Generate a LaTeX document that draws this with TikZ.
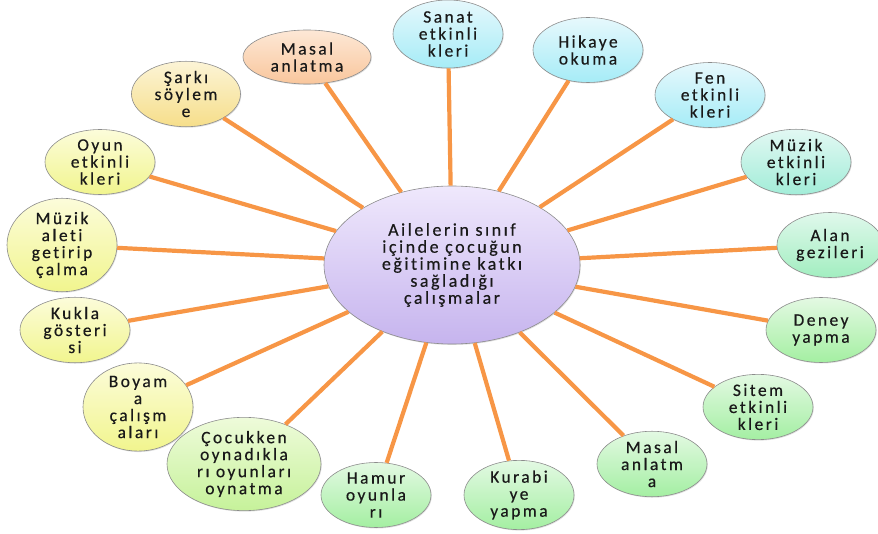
\documentclass[tikz,border=0pt]{standalone}
\usepackage{fontspec}
\setmainfont{Carlito}[LetterSpace=14, Ligatures=NoCommon, FakeBold=0.4]
\usetikzlibrary{shapes.geometric,shadows}
\newdimen\unitsize
\setlength{\unitsize}{1pt}
\definecolor{linkorange}{HTML}{F79646}
\definecolor{rimgray}{HTML}{8C8C8C}
\definecolor{hubtop}{HTML}{EFE8FC}   \definecolor{hubbot}{HTML}{C6B4EE}
\definecolor{cyantop}{HTML}{E6F8FC}  \definecolor{cyanbot}{HTML}{A6ECF7}
\definecolor{tealtop}{HTML}{E2F8F3}  \definecolor{tealbot}{HTML}{A2EDD8}
\definecolor{minttop}{HTML}{E0F8EC}  \definecolor{mintbot}{HTML}{A2EEC0}
\definecolor{greentop}{HTML}{E3F9E3} \definecolor{greenbot}{HTML}{A4EFA2}
\definecolor{limetop}{HTML}{EEFBDA}  \definecolor{limebot}{HTML}{C6F29A}
\definecolor{yeltop}{HTML}{FCFCDA}   \definecolor{yelbot}{HTML}{F1F58E}
\definecolor{goldtop}{HTML}{FCF4D6}  \definecolor{goldbot}{HTML}{F6DE8A}
\definecolor{peachtop}{HTML}{FDE8D6} \definecolor{peachbot}{HTML}{F9C69C}

\begin{document}
\begin{tikzpicture}[x=\unitsize,y=-\unitsize]
\tikzset{bubble/.style={ellipse, draw=rimgray, line width=0.6pt, inner sep=0pt,
  align=center, font=\fontsize{17.5}{17}\selectfont, text=black!90,
  minimum width=110\unitsize, minimum height=65\unitsize,
  drop shadow={opacity=0.25, shadow xshift=0.8pt, shadow yshift=-1pt}}}%
\tikzset{tint/.style={top color=#1top, bottom color=#1bot}}%
\tikzset{edge/.style={draw=linkorange, line width=4.2pt}}%
\useasboundingbox (0,0) rectangle (878,534);
% hub
\node[bubble, tint=hub, minimum width=256\unitsize, minimum height=158\unitsize,
  font=\fontsize{18}{17}\selectfont] (hub) at (452,265)
  {Ailelerin sınıf\\içinde çocuğun\\eğitimine katkı\\sağladığı\\çalışmalar};
% outer ring, clockwise from the top
\node[bubble, tint=cyan, minimum height=68\unitsize] (sanat) at (448,34) {Sanat\\etkinli\\kleri};
\node[bubble, tint=cyan] (hikaye) at (588,50) {Hikaye\\okuma};
\node[bubble, tint=cyan] (fen) at (710,95) {Fen\\etkinli\\kleri};
\node[bubble, tint=teal] (muzik) at (796,162) {Müzik\\etkinli\\kleri};
\node[bubble, tint=mint, minimum width=106\unitsize] (alan) at (830,245) {Alan\\gezileri};
\node[bubble, tint=green] (deney) at (821,330) {Deney\\yapma};
\node[bubble, tint=green] (sitem) at (758,407) {Sitem\\etkinli\\kleri};
\node[bubble, tint=green] (masalb) at (652,464) {Masal\\anlatm\\a};
\node[bubble, tint=green] (kurabiye) at (519,495) {Kurabi\\ye\\yapma};
\node[bubble, tint=green] (hamur) at (376,495) {Hamur\\oyunla\\rı};
\node[bubble, tint=lime, minimum width=154\unitsize] (cocuk) at (244,464) {Çocukken\\oynadıkla\\rı oyunları\\oynatma};
\node[bubble, tint=yel, minimum height=63\unitsize] (boyama) at (138,407) {Boyam\\a\\çalışm\\aları};
\node[bubble, tint=yel] (kukla) at (75,330) {Kukla\\gösteri\\si};
\node[bubble, tint=yel] (aleti) at (62,245) {Müzik\\aleti\\getirip\\çalma};
\node[bubble, tint=yel] (oyun) at (100,162) {Oyun\\etkinli\\kleri};
\node[bubble, tint=gold, minimum width=109\unitsize] (sarki) at (186,94) {Şarkı\\söylem\\e};
\node[bubble, tint=peach, minimum width=128\unitsize, minimum height=54\unitsize] (masala) at (307,57) {Masal\\anlatma};
% spokes
\draw[edge] (hub) -- (sanat);
\draw[edge] (hub) -- (hikaye);
\draw[edge] (hub) -- (fen);
\draw[edge] (hub) -- (muzik);
\draw[edge] (hub) -- (alan);
\draw[edge] (hub) -- (deney);
\draw[edge] (hub) -- (sitem);
\draw[edge] (hub) -- (masalb);
\draw[edge] (hub) -- (kurabiye);
\draw[edge] (hub) -- (hamur);
\draw[edge] (hub) -- (cocuk);
\draw[edge] (hub) -- (boyama);
\draw[edge] (hub) -- (kukla);
\draw[edge] (hub) -- (aleti);
\draw[edge] (hub) -- (oyun);
\draw[edge] (hub) -- (sarki);
\draw[edge] (hub) -- (masala);
\end{tikzpicture}
\end{document}
